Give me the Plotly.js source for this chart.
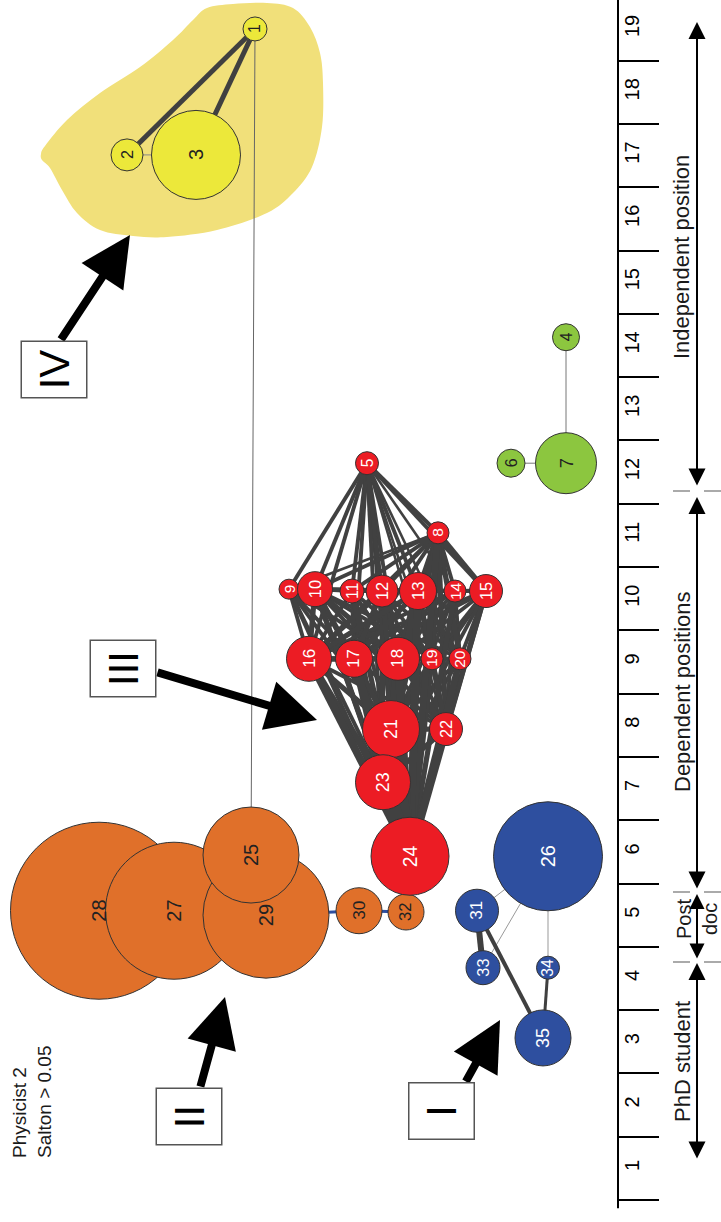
<!DOCTYPE html>
<html>
<head>
<meta charset="utf-8">
<script src="https://cdn.plot.ly/plotly-3.0.1.min.js"></script>
<style>html,body{margin:0;padding:0;background:#fff}#chart{width:721px;height:1222px}</style>
</head>
<body>
<div id="chart"></div>
<script>
// ---------------- DATA ----------------
const nodeId    = [1,2,3,4,5,6,7,8,9,10,11,12,13,14,15,16,17,18,19,20,21,22,23,24,25,26,27,28,29,30,31,32,33,34,35];
// horizontal layout position of each node
const nodeX     = [255,127,196,566,367,511,566,438,289,315,352,382,418,455,486,309,354,398,432,460,391,446,383,410,251,548,174,99,266,359,477,406,483,548,543];
// career year position (vertical axis)
const nodeYear  = [18.50,16.51,16.51,13.63,11.64,11.64,11.64,10.54,9.65,9.65,9.62,9.62,9.62,9.62,9.62,8.55,8.55,8.55,8.55,8.55,7.44,7.44,6.60,5.43,5.45,5.43,4.57,4.57,4.50,4.57,4.57,4.55,3.67,3.67,2.56];
// node weight (diameter)
const nodeWeight= [24,32,89,27,23,28,61,22,20,35,24,32,37,22,33,45,37,43,22,22,57,33,55,78,96,109,137,177,126,46,43,36,34,23,56];
const nodeGroup = ['IV','IV','IV','G','III','G','G','III','III','III','III','III','III','III','III','III','III','III','III','III','III','III','III','III','II','I','II','II','II','II','I','II','I','I','I'];
const drawOrder = [28,27,29,25,30,32,26,31,33,34,35,1,2,3,4,6,7,5,8,9,10,11,12,13,14,15,16,17,18,19,20,22,21,23,24];

// edges [from, to, strength]
const yellowEdges = [[1,2,5],[1,3,5],[2,3,1]];
const bridgeEdges = [[1,25,1]];
const greenEdges  = [[4,7,1],[6,7,1]];
const orangeLinks = [[29,30,3],[30,32,3]];
const blueEdges   = [[31,33,6],[31,35,4],[34,35,3],[33,26,1],[31,26,1],[34,26,1]];
const redEdges = [
 [5,8,3],[5,9,3],[5,10,3],[5,11,3],[5,12,3],[5,13,3],[5,14,2],[5,15,3],[5,16,3],[5,17,3],[5,18,3],[5,19,2],[5,20,2],[5,21,3],[5,22,2],[5,23,3],[5,24,3],
 [8,9,2],[8,10,3],[8,11,3],[8,12,3],[8,13,4],[8,14,3],[8,15,4],[8,16,3],[8,17,3],[8,18,4],[8,19,4],[8,20,4],[8,21,4],[8,22,4],[8,23,4],[8,24,5],
 [9,10,3],[9,16,3],[9,17,3],[9,18,3],[9,21,3],[9,23,3],[9,24,3],
 [10,11,3],[10,12,3],[10,13,3],[10,15,3],[10,16,4],[10,17,4],[10,18,4],[10,19,3],[10,20,3],[10,21,4],[10,22,3],[10,23,4],[10,24,4],
 [11,12,3],[11,13,3],[11,15,3],[11,16,3],[11,17,3],[11,18,3],[11,19,3],[11,21,3],[11,22,3],[11,23,3],[11,24,4],
 [12,13,3],[12,15,3],[12,16,4],[12,17,4],[12,18,4],[12,19,3],[12,20,3],[12,21,4],[12,22,3],[12,23,4],[12,24,4],
 [13,14,3],[13,15,3],[13,16,4],[13,17,4],[13,18,5],[13,19,4],[13,20,4],[13,21,6],[13,22,4],[13,23,5],[13,24,6],
 [14,15,3],[14,16,3],[14,17,3],[14,18,3],[14,20,3],[14,21,3],[14,22,3],[14,23,3],[14,24,4],
 [15,16,3],[15,17,3],[15,18,3],[15,19,3],[15,20,3],[15,21,3],[15,22,4],[15,23,3],[15,24,4],
 [16,17,4],[16,18,4],[16,21,4],[16,22,3],[16,23,5],[16,24,6],
 [17,18,4],[17,19,3],[17,21,4],[17,22,3],[17,23,5],[17,24,6],
 [18,19,4],[18,20,3],[18,21,6],[18,22,4],[18,23,5],[18,24,6],
 [19,20,3],[19,21,4],[19,22,4],[19,23,3],[19,24,4],
 [20,21,3],[20,22,4],[20,23,3],[20,24,5],
 [21,22,4],[21,23,8],[21,24,10],
 [22,23,4],[22,24,6],
 [23,24,12]
];

const yearLabels = ['1','2','3','4','5','6','7','8','9','10','11','12','13','14','15','16','17','18','19'];
const yearBounds = [0,1,2,3,4,5,6,7,8,9,10,11,12,13,14,15,16,17,18,19];

// ---------------- STYLE ----------------
const groupColor = {IV:'#ece83a', III:'#ec1c24', II:'#e0702a', I:'#2e4f9f', G:'#8cc63f'};
const groupText  = {IV:'#222', III:'#fff', II:'#222', I:'#fff', G:'#222'};
const W = 721, H = 1222;
const py = p => 1 - p / H;           // paper y from pixel row
const FONT = 'Liberation Sans, Arial, sans-serif';
const NARROW = 'Liberation Sans Narrow, Liberation Sans, Arial, sans-serif';

const idx = {};
nodeId.forEach((id, i) => idx[id] = i);

function edgeTrace(list, color, opts) {
  const traces = [];
  const byW = {};
  const k = (opts && opts.scale) || 1;
  list.forEach(e => { (byW[e[2]] = byW[e[2]] || []).push(e); });
  Object.keys(byW).forEach(w => {
    const xs = [], ys = [];
    byW[w].forEach(([a, b]) => {
      xs.push(nodeX[idx[a]], nodeX[idx[b]], null);
      ys.push(nodeYear[idx[a]], nodeYear[idx[b]], null);
    });
    const ww = +w;
    let c = color;
    if (opts && opts.thinColor && ww <= 1) c = opts.thinColor;
    traces.push({type:'scatter', mode:'lines', x:xs, y:ys, hoverinfo:'skip',
      line:{color:c, width: ww * k}, showlegend:false});
  });
  return traces;
}

const traces = [];
traces.push(...edgeTrace(redEdges, '#414141', {scale:1.3}));
traces.push(...edgeTrace(yellowEdges, '#404040', {thinColor:'#888'}));
traces.push(...edgeTrace(bridgeEdges, '#666'));
traces.push(...edgeTrace(greenEdges, '#777'));
traces.push(...edgeTrace(orangeLinks, '#2e4f9f'));
traces.push(...edgeTrace(blueEdges, '#404040', {thinColor:'#999'}));

const ord = drawOrder.map(id => idx[id]);
traces.push({
  type:'scatter', mode:'markers',
  x: ord.map(i => nodeX[i]), y: ord.map(i => nodeYear[i]),
  marker:{size: ord.map(i => nodeWeight[i]), color: ord.map(i => groupColor[nodeGroup[i]]),
          line:{color:'#333', width:1}, opacity:1},
  hoverinfo:'skip', showlegend:false
});
// invisible trace to carry the label axis
traces.push({type:'scatter', mode:'markers', x:[-50], y:[1], yaxis:'y2', marker:{opacity:0}, hoverinfo:'skip', showlegend:false});

const annotations = [];
// node labels
ord.forEach(i => {
  const d = nodeWeight[i];
  annotations.push({x:nodeX[i], y:nodeYear[i], xref:'x', yref:'y', text:String(nodeId[i]),
    showarrow:false, textangle:-90, xanchor:'center', yanchor:'middle',
    font:{family:NARROW, size: Math.min(20, 14 + d*0.07), color: groupText[nodeGroup[i]]}});
});

// category labels on the right
const cat = (t, x, p, s) => annotations.push({x:x, y:py(p), xref:'x', yref:'paper', text:t, showarrow:false,
  xanchor:'center', yanchor:'middle',
  textangle:-90, font:{family:FONT, size:s, color:'#1a1a1a'}, align:'center'});
cat('Independent position', 682, 257, 22);
cat('Dependent positions', 682, 692, 22);
cat('PhD student', 682, 1062, 22);
cat('Post<br>doc', 697, 919, 20);

// double arrows on the right
const dbl = (p0, p1, s) => annotations.push({x:697, y:py(p0), xref:'x', yref:'paper', ax:0, ay:(p1 - p0),
  axref:'pixel', ayref:'pixel', text:'', showarrow:true, arrowhead:2, startarrowhead:2, arrowside:'end+start',
  arrowsize:s, startarrowsize:s, arrowwidth:2, arrowcolor:'#000', standoff:0, startstandoff:0});
dbl(22, 487, 1.7);
dbl(497, 890, 1.7);
dbl(894, 960, 1.5);
dbl(963, 1160, 1.7);

// big pointing arrows
const big = (tx, ty, fx, fy) => annotations.push({x:tx, y:py(ty), xref:'x', yref:'paper', ax:(fx - tx), ay:(fy - ty),
  axref:'pixel', ayref:'pixel', text:'', showarrow:true, arrowhead:2, arrowsize:1.25, arrowwidth:8, arrowcolor:'#000',
  standoff:0, startstandoff:0});
big(130, 235, 60, 341);
big(317, 720, 156, 672);
big(225, 997, 200, 1088);
big(500, 1020, 465, 1083);

// boxed cluster labels
const box = (t, cx, cy) => annotations.push({x:cx, y:py(cy), xref:'x', yref:'paper', text:t, showarrow:false,
  xanchor:'center', yanchor:'middle',
  textangle:-90, width:55, height:64, borderpad:0, bordercolor:'#555', borderwidth:1.5, bgcolor:'#fff',
  font:{family:FONT, size:42, color:'#000'}, align:'center', valign:'middle'});
box('IV', 54, 369.5);
box('III', 123, 668.5);
box('II', 188.5, 1117);
box('I', 441.5, 1111.5);

// caption
annotations.push({x:32, y:py(1102), xref:'x', yref:'paper', text:'Physicist 2<br>Salton > 0.05', showarrow:false,
  xanchor:'center', yanchor:'middle',
  textangle:-90, align:'left', font:{family:FONT, size:19, color:'#1a1a1a'}});

// yellow highlight blob (pixel outline)
const blob = [[207,8],[233,4],[267,3],[293,8],[310,27],[320,53],[323,83],[322,127],[312,167],[293,193],[267,213],[217,230],[167,237],[133,236],[100,230],[77,213],[62,190],[50,168],[42,160],[41,154],[45,146],[67,120],[100,93],[140,67],[173,40],[193,20]];
function closedSpline(pts) {
  const n = pts.length, P = k => pts[(k + n) % n];
  const f = q => q[0].toFixed(2) + ',' + py(q[1]).toFixed(5);
  let d = 'M ' + f(P(0));
  for (let i = 0; i < n; i++) {
    const p0 = P(i-1), p1 = P(i), p2 = P(i+1), p3 = P(i+2);
    const c1 = [p1[0] + (p2[0]-p0[0])/6, p1[1] + (p2[1]-p0[1])/6];
    const c2 = [p2[0] - (p3[0]-p1[0])/6, p2[1] - (p3[1]-p1[1])/6];
    d += ' C ' + f(c1) + ' ' + f(c2) + ' ' + f(p2);
  }
  return d + ' Z';
}

const shapes = [
  {type:'path', xref:'x', yref:'paper', path: closedSpline(blob), fillcolor:'#f1e07a', line:{width:0}, layer:'below'},
  {type:'line', xref:'x', yref:'y', x0:618, x1:618, y0:-0.13, y1:19.5, line:{color:'#000', width:2}},
];
[[491],[892],[962]].forEach(([p]) => {
  shapes.push({type:'line', xref:'x', yref:'paper', x0:673, x1:690, y0:py(p), y1:py(p), line:{color:'#aaa', width:2}});
  shapes.push({type:'line', xref:'x', yref:'paper', x0:704, x1:721, y0:py(p), y1:py(p), line:{color:'#aaa', width:2}});
});

const yr = [(1200 - H) / 63.3, 1200 / 63.3];
const layout = {
  width:W, height:H, margin:{l:0, r:0, t:0, b:0}, paper_bgcolor:'#fff', plot_bgcolor:'#fff',
  showlegend:false, hovermode:false,
  xaxis:{range:[0, W], domain:[0,1], visible:false, fixedrange:true},
  yaxis:{range:yr, domain:[0,1], side:'right', anchor:'free', position:618/W,
    tickmode:'array', tickvals:yearBounds, ticks:'outside', ticklen:40, tickwidth:2, tickcolor:'#000',
    showticklabels:false, showgrid:false, zeroline:false, showline:false, fixedrange:true},
  yaxis2:{range:yr, overlaying:'y', side:'right', anchor:'free', position:618/W,
    tickmode:'array', tickvals:yearBounds.slice(0,19).map(v => v + 0.5), ticktext:yearLabels,
    ticks:'', tickangle:-90, tickfont:{family:FONT, size:20, color:'#000'},
    showgrid:false, zeroline:false, showline:false, fixedrange:true},
  shapes:shapes, annotations:annotations
};
Plotly.newPlot('chart', traces, layout, {displayModeBar:false, staticPlot:true});
</script>
</body>
</html>
